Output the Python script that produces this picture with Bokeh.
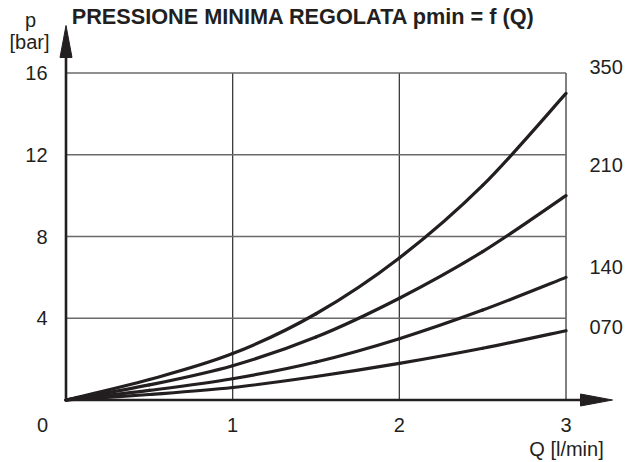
from bokeh.plotting import figure
from bokeh.models import ColumnDataSource
from bokeh.core.properties import value
from bokeh.embed import file_html
from bokeh.resources import INLINE

# ---- data ----
Q = [0, 0.5, 1, 1.5, 2, 2.5, 3]
p350 = [0, 1.0, 2.27, 4.22, 6.95, 10.5, 15.0]
p210 = [0, 0.74, 1.68, 3.08, 4.98, 7.26, 10.0]
p140 = [0, 0.47, 1.04, 1.86, 3.0, 4.4, 6.0]
p070 = [0, 0.27, 0.61, 1.15, 1.79, 2.53, 3.39]
series_names = ["350", "210", "140", "070"]
series = [p350, p210, p140, p070]
x_ticks = [1, 2, 3]
x_tick_labels = ["1", "2", "3"]
y_ticks = [4, 8, 12, 16]
y_tick_labels = ["4", "8", "12", "16"]
title_text = "PRESSIONE MINIMA REGOLATA pmin = f (Q)"
x_title = "Q [l/min]"
y_title = ["p", "[bar]"]

# ---- layout constants (pixel mapping of the canvas) ----
W, H = 625, 462
OX, OY = 65.5, 399.5      # pixel position of data origin
PXX = 166.67              # px per x unit
PXY = 20.4375             # px per y unit
INK = "#231f20"
FONT = "Liberation Sans"

def dx(px):
    return (px - OX) / PXX

def dy(py):
    return (OY - py) / PXY

p = figure(width=W, height=H, x_range=(dx(0), dx(W)), y_range=(dy(H), dy(0)),
           output_backend="svg", toolbar_location=None,
           x_axis_location=None, y_axis_location=None,
           min_border=0, min_border_left=0, min_border_right=0,
           min_border_top=0, min_border_bottom=0)
p.title.visible = False
p.outline_line_color = None
p.xgrid.visible = False
p.ygrid.visible = False
p.background_fill_color = "white"
p.border_fill_color = "white"

xmax, ymax = x_ticks[-1], y_ticks[-1]
# grid: vertical
p.segment(x0=x_ticks, y0=[0] * len(x_ticks), x1=x_ticks, y1=[ymax] * len(x_ticks),
          line_color="#3a3a3a", line_width=1.3)
# grid: horizontal
p.segment(x0=[0] * len(y_ticks), y0=y_ticks, x1=[xmax] * len(y_ticks), y1=y_ticks,
          line_color="#6a6a6a", line_width=1.3)

# curves: smooth path through the read points (Catmull-Rom as cubic Bezier segments)
def smooth(xs, ys):
    n = len(xs)
    px = [xs[0]] + list(xs) + [xs[-1]]
    py = [ys[0]] + list(ys) + [ys[-1]]
    d = dict(x0=[], y0=[], x1=[], y1=[], cx0=[], cy0=[], cx1=[], cy1=[])
    for i in range(1, n):
        d["x0"].append(px[i]); d["y0"].append(py[i])
        d["x1"].append(px[i + 1]); d["y1"].append(py[i + 1])
        d["cx0"].append(px[i] + (px[i + 1] - px[i - 1]) / 6)
        d["cy0"].append(py[i] + (py[i + 1] - py[i - 1]) / 6)
        d["cx1"].append(px[i + 1] - (px[i + 2] - px[i]) / 6)
        d["cy1"].append(py[i + 1] - (py[i + 2] - py[i]) / 6)
    return ColumnDataSource(d)

for vals in series:
    p.bezier(x0="x0", y0="y0", x1="x1", y1="y1", cx0="cx0", cy0="cy0",
             cx1="cx1", cy1="cy1", source=smooth(Q, vals),
             line_color=INK, line_width=3.2, line_cap="round")

# axes with arrows
head_len, head_half = 32, 6
y_tip = dy(25)
y_base = y_tip - head_len / PXY
x_tip = dx(612)
x_base = x_tip - head_len / PXX
p.segment(x0=[0, 0], y0=[0, 0], x1=[0, x_base], y1=[y_base, 0], line_color=INK, line_width=2.6)
p.patch([0, -head_half / PXX, head_half / PXX], [y_tip, y_base, y_base], color=INK)
p.patch([x_tip, x_base, x_base], [0, head_half / PXY, -head_half / PXY], color=INK)

txt = dict(text_font=value(FONT), text_font_size="20px", text_color=INK)

# tick labels
p.text(x=[dx(47)] * len(y_ticks), y=y_ticks, text=y_tick_labels,
       text_align="right", text_baseline="middle", **txt)
p.text(x=x_ticks, y=[dy(424)] * len(x_ticks), text=x_tick_labels,
       text_align="center", text_baseline="middle", **txt)
p.text(x=[dx(42)], y=[dy(424)], text=["0"], text_align="center", text_baseline="middle", **txt)

# axis titles
p.text(x=[dx(30), dx(29)], y=[dy(19), dy(41)], text=y_title,
       text_align="center", text_baseline="middle", **txt)
p.text(x=[dx(566)], y=[dy(448)], text=[x_title], text_align="center",
       text_baseline="middle", **txt)

# right-hand curve labels
lab_y = [dy(py) for py in (66, 164, 266, 326)]
src = ColumnDataSource(dict(x=[dx(589)] * 4, y=lab_y, t=series_names))
p.text(x="x", y="y", text="t", source=src, text_align="left", text_baseline="middle", **txt)

# title
p.text(x=[dx(303)], y=[dy(16)], text=[title_text], text_font=value(FONT),
       text_font_size="21.7px", text_font_style="bold", text_color=INK,
       text_align="center", text_baseline="alphabetic")

open("out.html", "w").write(file_html(p, INLINE))
